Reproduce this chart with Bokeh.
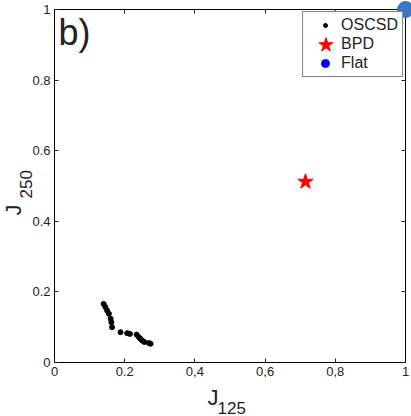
import math
from bokeh.plotting import figure
from bokeh.models import Range1d, LinearAxis, Legend, LegendItem, FixedTicker, ColumnDataSource
from bokeh.embed import file_html
from bokeh.resources import INLINE

# ---- data ----
oscsd_x = [0.140, 0.145, 0.150, 0.155, 0.160, 0.162, 0.164, 0.188, 0.207, 0.215,
           0.234, 0.240, 0.245, 0.250, 0.256, 0.269, 0.274]
oscsd_y = [0.166, 0.157, 0.147, 0.138, 0.124, 0.114, 0.100, 0.086, 0.083, 0.081,
           0.079, 0.072, 0.067, 0.062, 0.058, 0.055, 0.053]
bpd_x = [0.715]
bpd_y = [0.512]
flat_x = [1.0]
flat_y = [1.0]

x_ticks = [0, 0.2, 0.4, 0.6, 0.8, 1]
x_tick_labels = ["0", "0.2", "0,4", "0,6", "0,8", "1"]
y_ticks = [0, 0.2, 0.4, 0.6, 0.8, 1]
y_tick_labels = ["0", "0.2", "0.4", "0.6", "0.8", "1"]
legend_labels = ["OSCSD", "BPD", "Flat"]

FONT = "Liberation Sans"
TXT = "#222222"
FL, FB = 54, 362   # frame left / bottom in pixels (from min_border settings)

p = figure(width=411, height=416, output_backend="svg", toolbar_location=None,
           x_range=Range1d(0, 1), y_range=Range1d(0, 1),
           min_border_left=54, min_border_right=6, min_border_top=9, min_border_bottom=54,
           background_fill_color="white", border_fill_color="white")
p.outline_line_color = "black"
p.grid.visible = False

def style_axis(ax, ticks, labels, show_labels):
    ax.ticker = FixedTicker(ticks=ticks)
    ax.major_tick_in = 4
    ax.major_tick_out = 0
    ax.minor_tick_line_color = None
    ax.axis_line_color = "black"
    ax.major_tick_line_color = "#222222"
    ax.axis_label = None
    if show_labels:
        ax.major_label_overrides = {t: l for t, l in zip(ticks, labels)}
        ax.major_label_text_font = FONT
        ax.major_label_text_font_size = "13px"
        ax.major_label_text_color = TXT
        ax.major_label_standoff = 4
    else:
        ax.major_label_text_font_size = "1px"
        ax.major_label_text_color = None
        ax.major_label_standoff = 0

style_axis(p.xaxis[0], x_ticks, x_tick_labels, True)
style_axis(p.yaxis[0], y_ticks, y_tick_labels, True)
top = LinearAxis(); style_axis(top, x_ticks, x_tick_labels, False); p.add_layout(top, "above")
right = LinearAxis(); style_axis(right, y_ticks, y_tick_labels, False); p.add_layout(right, "right")

# ---- glyphs ----
src_o = ColumnDataSource(dict(x=oscsd_x, y=oscsd_y))
src_b = ColumnDataSource(dict(x=bpd_x, y=bpd_y))
src_f = ColumnDataSource(dict(x=flat_x, y=flat_y))

r_o = p.scatter("x", "y", source=src_o, marker="circle", size=5, color="black")
r_b = p.scatter("x", "y", source=src_b, marker="star", size=16, color="#ff0000")
r_fl = p.scatter("x", "y", source=src_f, marker="circle", size=8, color="#0000ff")  # legend swatch (hidden under the dot)
p.scatter("x", "y", source=src_f, marker="circle", size=16, color="#3b76c3", level="overlay")

# main legend box with labels (glyph swatches invisible)
i_o = p.scatter("x", "y", source=src_o, marker="circle", alpha=0)
i_b = p.scatter("x", "y", source=src_b, marker="star", alpha=0)
i_f = p.scatter("x", "y", source=src_f, marker="circle", alpha=0)
legend = Legend(items=[LegendItem(label=legend_labels[0], renderers=[i_o]),
                       LegendItem(label=legend_labels[1], renderers=[i_b]),
                       LegendItem(label=legend_labels[2], renderers=[i_f])],
                location="top_right", margin=2, padding=4, spacing=1,
                glyph_width=34, glyph_height=18, label_height=18, label_standoff=0,
                label_text_font=FONT, label_text_font_size="16px", label_text_color=TXT,
                border_line_color="black", background_fill_color="white", background_fill_alpha=1)
p.add_layout(legend, "center")

# per-item swatches with their own sizes
def swatch(r, box, cx, cy):
    lg = Legend(items=[LegendItem(label=" ", renderers=[r])],
                location=(cx - box / 2 - FL, FB - (cy + box / 2)), margin=0, padding=0, spacing=0,
                glyph_width=box, glyph_height=box, label_height=box, label_width=0, label_standoff=0,
                label_text_font_size="1px", label_text_color=None,
                border_line_color=None, background_fill_alpha=0)
    p.add_layout(lg, "center")

swatch(r_o, 10, 325, 25)
swatch(r_b, 37, 325, 44)
swatch(r_fl, 20, 325, 63)

# ---- texts outside/inside the frame ----
def lab(text, ax, ay, dx, dy, size, angle=0.0):
    p.text(x=[ax], y=[ay], text=[text], x_offset=dx, y_offset=dy, angle=angle,
           text_font={"value": FONT}, text_font_size=size, text_color=TXT,
           text_align="left", text_baseline="middle", level="overlay")

lab("b)", 0, 1, 4, 22.5, "36px")
lab("J", 0, 0, 153, 35, "22px")
lab("125", 0, 0, 163, 45, "17px")
lab("J", 0, 0, -41, -147, "22px", angle=math.pi / 2)
lab("250", 0, 0, -29, -164, "17px", angle=math.pi / 2)

open("out.html", "w").write(file_html(p, INLINE))
